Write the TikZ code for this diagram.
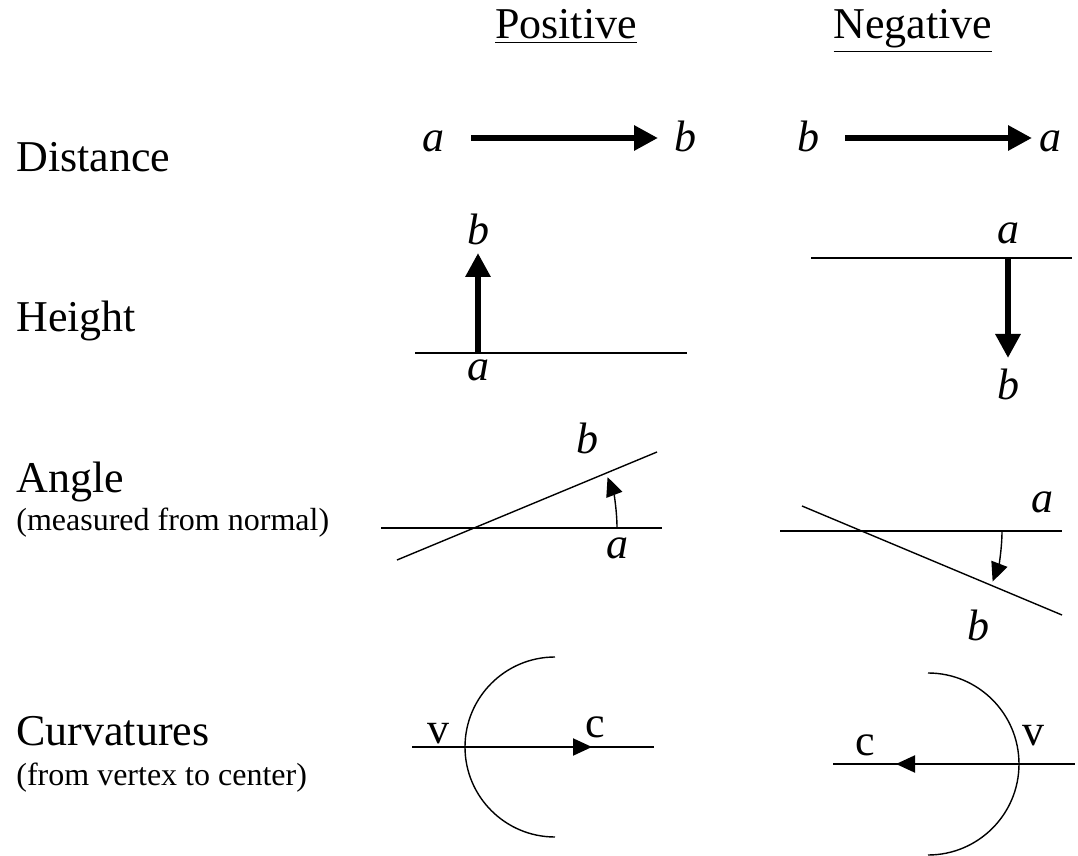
\documentclass[tikz,border=0pt]{standalone}
\usepackage{fontspec}
\setmainfont{Liberation Serif}
\usetikzlibrary{arrows.meta,positioning}

\begin{document}
\begin{tikzpicture}[
  x=0.5pt,y=-0.5pt,
  big/.style={font=\fontsize{22}{26}\selectfont,inner sep=0pt,anchor=base},
  vlab/.style={big,font=\fontsize{22}{26}\selectfont\itshape},
  rowlab/.style={big,anchor=base west},
  sublab/.style={font=\fontsize{16}{19}\selectfont,inner sep=0pt,anchor=base west},
  thinline/.style={line width=0.7pt},
  boldarrow/.style={-{Triangle[length=12pt,width=12pt]},line width=3.3pt},
  finearrow/.style={-{Triangle[length=9.5pt,width=8.5pt]},line width=0.7pt},
]
\useasboundingbox (0,0) rectangle (1078,856);

% column heads
\node[big] (pos) at (566,39) {\underline{Positive}};
\node[big] (neg) at (913,39) {\underline{Negative}};

% row labels
\node[rowlab] (dist)  at (16,172) {Distance};
\node[rowlab] (hgt)   at (16,331) {Height};
\node[rowlab] (ang)   at (16,492) {Angle};
\node[sublab] (angn)  at (16,530) {(measured from normal)};
\node[rowlab] (curv)  at (16,745) {Curvatures};
\node[sublab] (curvn) at (16,785) {(from vertex to center)};

% distance
\node[vlab] (da1) at (433,152) {a};
\node[vlab] (db1) at (685,152) {b};
\coordinate (ds1) at (471,138);
\coordinate (dt1) at (658,138);
\draw[boldarrow] (ds1) -- (dt1);
\node[vlab] (db2) at (808,152) {b};
\node[vlab] (da2) at (1050,152) {a};
\coordinate (ds2) at (845,138);
\coordinate (dt2) at (1032,138);
\draw[boldarrow] (ds2) -- (dt2);

% height
\coordinate (hl1) at (415,353);
\coordinate (hr1) at (687,353);
\draw[thinline] (hl1) -- (hr1);
\coordinate (hs1) at (478,353);
\coordinate (ht1) at (478,253);
\draw[boldarrow] (hs1) -- (ht1);
\node[vlab] (hb1) at (478,245) {b};
\node[vlab] (ha1) at (478,380) {a};
\coordinate (hl2) at (811,258);
\coordinate (hr2) at (1072,258);
\draw[thinline] (hl2) -- (hr2);
\coordinate (hs2) at (1008,258);
\coordinate (ht2) at (1008,358);
\draw[boldarrow] (hs2) -- (ht2);
\node[vlab] (ha2) at (1008,243) {a};
\node[vlab] (hb2) at (1008,400) {b};

% angle
\coordinate (al1) at (381,528);
\coordinate (ar1) at (662,528);
\coordinate (sl1) at (397,560);
\coordinate (sr1) at (657,452);
\draw[thinline] (al1) -- (ar1);
\draw[thinline] (sl1) -- (sr1);
\coordinate (as1) at (617,528);
\draw[finearrow] (as1) arc[start angle=0,end angle=-21,radius=142];
\node[vlab] (ab1) at (587,453) {b};
\node[vlab] (aa1) at (617,558) {a};
\coordinate (al2) at (780,531);
\coordinate (ar2) at (1062,531);
\coordinate (sl2) at (802,506);
\coordinate (sr2) at (1062,615);
\draw[thinline] (al2) -- (ar2);
\draw[thinline] (sl2) -- (sr2);
\coordinate (as2) at (1002,531);
\draw[finearrow] (as2) arc[start angle=0,end angle=21,radius=141];
\node[vlab] (aa2) at (1042,512) {a};
\node[vlab] (ab2) at (978,640) {b};

% curvatures
\coordinate (cl1) at (412,747);
\coordinate (cr1) at (654,747);
\draw[thinline] (cl1) -- (cr1);
\coordinate (cv1) at (465,747);
\coordinate (cc1) at (592,747);
\draw[thinline] (cv1) arc[start angle=180,end angle=90,radius=90];
\draw[thinline] (cv1) arc[start angle=180,end angle=270,radius=90];
\draw[finearrow,line width=1pt] (cv1) -- (cc1);
\node[big] (v1) at (438,743) {v};
\node[big] (c1) at (595,737) {c};
\coordinate (cl2) at (833,764);
\coordinate (cr2) at (1075,764);
\draw[thinline] (cl2) -- (cr2);
\coordinate (cv2) at (1019,764);
\coordinate (cc2) at (896,764);
\draw[thinline] (cv2) arc[start angle=0,end angle=90,radius=91];
\draw[thinline] (cv2) arc[start angle=0,end angle=-90,radius=91];
\draw[finearrow,line width=1pt] (cv2) -- (cc2);
\node[big] (c2) at (865,755) {c};
\node[big] (v2) at (1033,745) {v};
\end{tikzpicture}
\end{document}
